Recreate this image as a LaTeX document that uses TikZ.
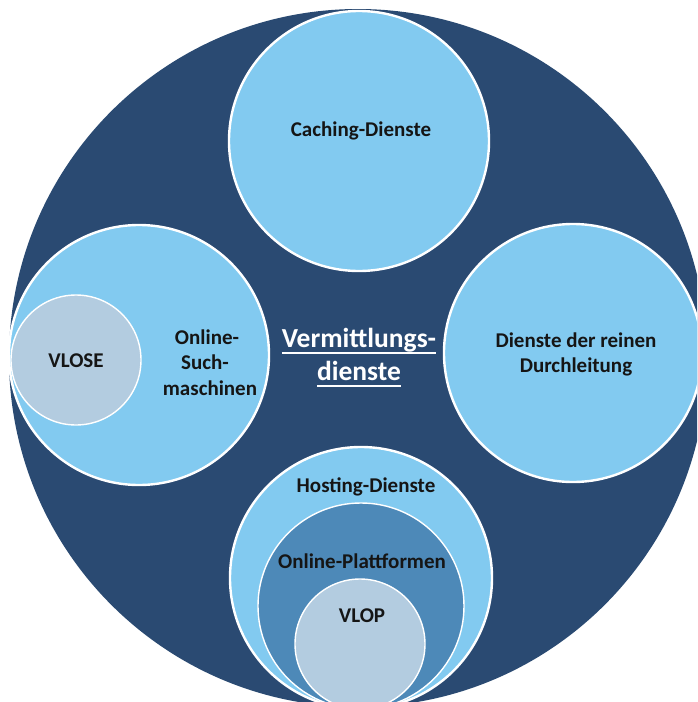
\documentclass[tikz,border=0pt]{standalone}
\usepackage{fontspec}
\setmainfont{Carlito}
\definecolor{navy}{HTML}{2A4A72}
\definecolor{lightblue}{HTML}{82CAF0}
\definecolor{midblue}{HTML}{4D89B8}
\definecolor{greyblue}{HTML}{B3CCE0}
\definecolor{txt}{HTML}{151515}
\newcommand\myul[1]{\setbox0\hbox{#1}\rlap{\rule[-6.5pt]{\wd0}{1.8pt}}\box0}
\tikzset{
  ring/.style={circle, inner sep=0pt, draw=white, line width=2.4pt, minimum size=#1},
  thinring/.style={circle, inner sep=0pt, draw=white, line width=1.4pt, minimum size=#1},
  lbl/.style={anchor=base, inner sep=0pt, text=txt, font=\fontsize{21}{25}\selectfont\bfseries},
  biglbl/.style={anchor=base, inner sep=0pt, text=white, font=\fontsize{27.5}{33}\selectfont\bfseries}
}
\begin{document}
\begin{tikzpicture}[x=1pt,y=-1pt]
\useasboundingbox (0,0) rectangle (697,702);
\clip (0,0) rectangle (697,702);
\fill[white] (0,0) rectangle (697,702);
\node[circle, inner sep=0pt, fill=navy, minimum size=698pt] (outer) at (358,358) {};
% top
\node[ring=260pt, fill=lightblue] (cach) at (359,141) {};
% left
\node[ring=260pt, fill=lightblue] (such) at (139,355) {};
\node[thinring=130pt, fill=greyblue] (vlose) at (76,360) {};
% right
\node[ring=258pt, fill=lightblue] (durch) at (573,353) {};
% bottom
\node[ring=262pt, fill=lightblue] (host) at (361,578) {};
\node[thinring=206pt, fill=midblue] (plat) at (361,606) {};
\node[thinring=130pt, fill=greyblue] (vlop) at (360,644) {};
% texts
\node[lbl] (tcach) at (361,136) {Caching-Dienste};
\node[lbl] (tsuch1) at (207,344) {Online-};
\node[lbl] (tsuch2) at (205,369) {Such-};
\node[lbl] (tsuch3) at (210,395) {maschinen};
\node[lbl] (tvlose) at (76,367) {VLOSE};
\node[lbl] (tdurch1) at (576,347) {Dienste der reinen};
\node[lbl] (tdurch2) at (576,372) {Durchleitung};
\node[lbl] (thost) at (366,492) {Hosting-Dienste};
\node[lbl] (tplat) at (362,568) {Online-Plattformen};
\node[lbl] (tvlop) at (362,622) {VLOP};
\node[biglbl] (tv1) at (359,347) {\myul{Vermittlungs-}};
\node[biglbl] (tv2) at (359,380) {\myul{dienste}};
\end{tikzpicture}
\end{document}
